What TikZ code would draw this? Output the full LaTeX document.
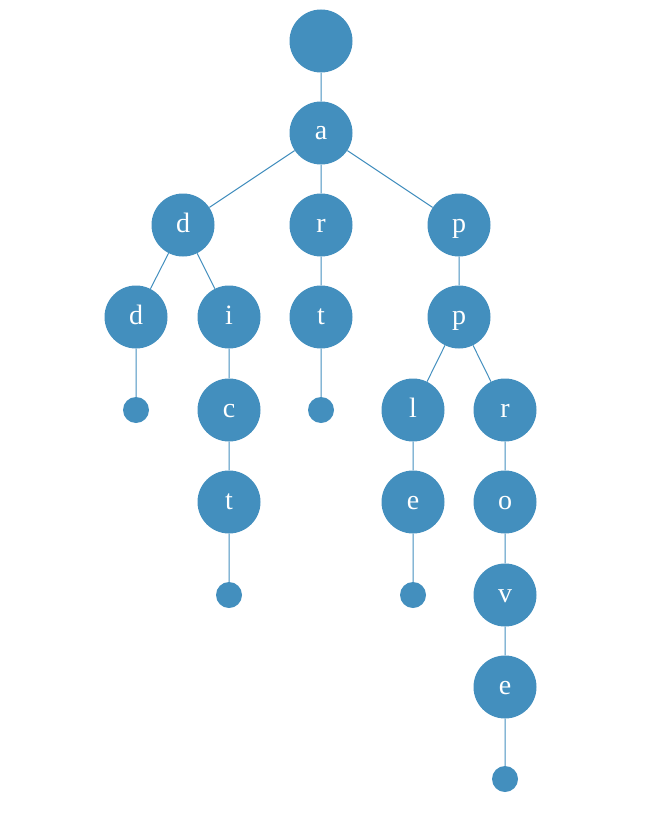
\documentclass[tikz,border=0pt]{standalone}
\usepackage{fontspec}
\setmainfont{Liberation Serif}
\definecolor{nodeblue}{RGB}{67,143,190}
\begin{document}
\begin{tikzpicture}[x=1pt,y=-1pt,
  big/.style={circle,fill=nodeblue,minimum size=63pt,inner sep=0pt,text=white,font=\fontsize{28}{28}\selectfont,text height=14pt,text depth=0pt},
  small/.style={circle,fill=nodeblue,minimum size=26pt,inner sep=0pt},
  edge/.style={draw=nodeblue,line width=1pt}]
\useasboundingbox (0,0) rectangle (656,821);
\node[big] (root) at (321,41) {};
\node[big] (a) at (321,133) {a};
\node[big] (d1) at (183,225) {d};
\node[big] (r1) at (321,225) {r};
\node[big] (p1) at (459,225) {p};
\node[big] (d2) at (136,317) {d};
\node[big] (i) at (229,317) {i};
\node[big] (t1) at (321,317) {t};
\node[big] (p2) at (459,317) {p};
\node[small] (e1) at (136,410) {};
\node[big] (c) at (229,410) {c};
\node[small] (e2) at (321,410) {};
\node[big] (l) at (413,410) {l};
\node[big] (r2) at (505,410) {r};
\node[big] (t2) at (229,502) {t};
\node[big] (e) at (413,502) {e};
\node[big] (o) at (505,502) {o};
\node[small] (e3) at (229,595) {};
\node[small] (e4) at (413,595) {};
\node[big] (v) at (505,595) {v};
\node[big] (ee) at (505,687) {e};
\node[small] (e5) at (505,779) {};
\path[edge] (root) -- (a) (a) -- (d1) (a) -- (r1) (a) -- (p1)
  (d1) -- (d2) (d1) -- (i) (r1) -- (t1) (p1) -- (p2)
  (d2) -- (e1) (i) -- (c) (t1) -- (e2) (p2) -- (l) (p2) -- (r2)
  (c) -- (t2) (l) -- (e) (r2) -- (o)
  (t2) -- (e3) (e) -- (e4) (o) -- (v) (v) -- (ee) (ee) -- (e5);
\end{tikzpicture}
\end{document}
